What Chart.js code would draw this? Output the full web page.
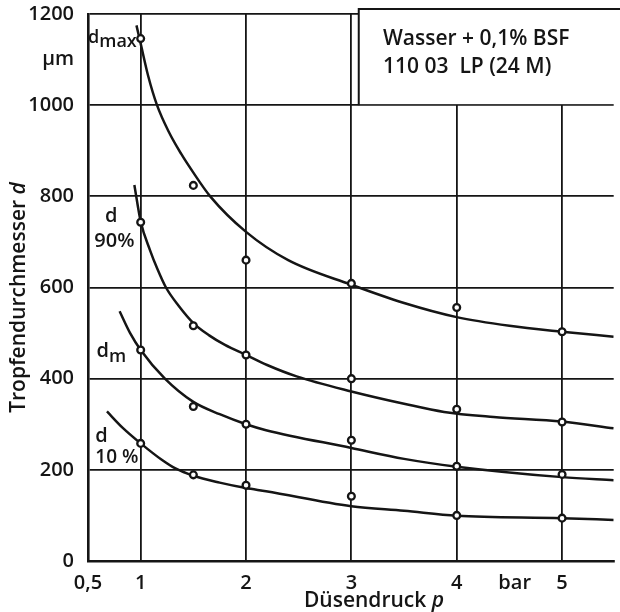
<!DOCTYPE html>
<html>
<head>
<meta charset="utf-8">
<script src="https://cdn.jsdelivr.net/npm/chart.js@4.4.1/dist/chart.umd.min.js"></script>
<style>
html, body { margin: 0; padding: 0; background: #fff; }
#wrap { width: 620px; height: 612px; }
</style>
</head>
<body>
<div id="wrap"><canvas id="chart"></canvas></div>
<script>
// measured droplet sizes (um) at nozzle pressure p (bar)
var pressures = [1, 1.5, 2, 3, 4, 5];
var dMaxPts  = [1146, 824, 660, 609, 556, 503];
var d90Pts   = [743, 516, 452, 400, 333, 305];
var dMeanPts = [463, 339, 300, 265, 208, 190];
var d10Pts   = [258, 189, 166, 142, 100, 94];

// hand drawn fit curves
var dMaxCurveP = [0.96, 1.0, 1.07, 1.155, 1.27, 1.385, 1.5, 1.66, 2.0, 2.4, 3, 3.5, 4, 4.5, 5, 5.49];
var dMaxCurve  = [1175, 1135, 1065, 1000, 940, 893, 852, 800, 722, 660, 606, 566, 535, 516, 503, 492];
var d90CurveP  = [0.94, 1.0, 1.09, 1.16, 1.24, 1.36, 1.5, 1.65, 1.8, 2.0, 2.2, 2.48, 3, 3.5, 3.88, 4.35, 5, 5.49];
var d90Curve   = [825, 745, 681, 640, 600, 560, 522, 495, 474, 452, 430, 405, 372, 345, 327, 316, 306, 291];
var dMeanCurveP = [0.8, 0.9, 1.0, 1.23, 1.5, 1.75, 2.0, 2.19, 3, 3.5, 4, 5, 5.49];
var dMeanCurve  = [548, 500, 463, 400, 349, 322, 300, 287, 248, 224, 207, 184, 177];
var d10CurveP  = [0.68, 0.83, 1.0, 1.2, 1.33, 1.5, 1.75, 2.0, 2.19, 3, 3.5, 4, 5, 5.49];
var d10Curve   = [328, 292, 258, 222, 203, 187, 172, 160, 153, 120, 110, 99, 94, 90];

// axis ticks
var xTickValues = [0.5, 1, 2, 3, 4, 4.55, 5];
var xTickLabels = ['0,5', '1', '2', '3', '4', 'bar', '5'];
var yTickValues = [0, 200, 400, 600, 800, 1000, 1100, 1200];
var yTickLabels = ['0', '200', '400', '600', '800', '1000', '\u03bcm', '1200'];

var ink = '#151515';
var fontName = "'Open Sans', sans-serif";
var fontWeight = '600';

function xy(xs, ys) {
    return xs.map(function(v, i) { return { x: v, y: ys[i] }; });
}

function curve(xs, ys) {
    return {
        data: xy(xs, ys),
        showLine: true,
        borderColor: ink,
        borderWidth: 2.5,
        pointRadius: 0,
        cubicInterpolationMode: 'monotone',
        order: 2
    };
}

function marks(ys) {
    return {
        data: xy(pressures, ys),
        showLine: false,
        pointRadius: 3.4,
        pointBorderWidth: 2.3,
        pointBorderColor: ink,
        pointBackgroundColor: '#fff',
        order: 1
    };
}

// draws a run of text pieces one after another
function textRun(ctx, parts, x, y) {
    parts.forEach(function(p) {
        ctx.font = p.font;
        ctx.fillText(p.text, x, y + (p.dy || 0));
        x += ctx.measureText(p.text).width;
    });
}

function runWidth(ctx, parts) {
    var w = 0;
    parts.forEach(function(p) { ctx.font = p.font; w += ctx.measureText(p.text).width; });
    return w;
}

var paperText = {
    id: 'paperText',
    beforeDatasetsDraw: function(chart) {
        // legend box in the upper right corner hides the grid
        var sx = chart.scales.x, sy = chart.scales.y, ctx = chart.ctx;
        var left = sx.getPixelForValue(3.07);
        var top = sy.getPixelForValue(1200) - 5;
        var bottom = sy.getPixelForValue(1000);
        ctx.save();
        ctx.fillStyle = '#fff';
        ctx.fillRect(left, top - 2, chart.width - left, bottom - top + 1);
        ctx.strokeStyle = ink;
        ctx.lineWidth = 2;
        ctx.beginPath();
        ctx.moveTo(left, bottom);
        ctx.lineTo(left, top);
        ctx.lineTo(chart.width, top);
        ctx.stroke();
        ctx.restore();
    },
    afterDraw: function(chart) {
        var sx = chart.scales.x, sy = chart.scales.y, ctx = chart.ctx;
        var X = function(v) { return sx.getPixelForValue(v); };
        var Y = function(v) { return sy.getPixelForValue(v); };
        var f = function(s, it) { return (it ? 'italic ' : '') + fontWeight + ' ' + s + 'px ' + fontName; };
        ctx.save();
        ctx.fillStyle = ink;
        ctx.textBaseline = 'alphabetic';
        ctx.textAlign = 'left';

        // box text
        ctx.font = f(21);
        ctx.fillText('Wasser + 0,1% BSF', X(3.3), Y(1132));
        ctx.fillText('110 03  LP (24 M)', X(3.3), Y(1071));

        // curve labels
        textRun(ctx, [{ text: 'd', font: f(18) }, { text: 'max', font: f(18), dy: 3.5 }], X(0.5), Y(1136));
        ctx.textAlign = 'center';
        ctx.font = f(20);
        ctx.fillText('d', X(0.72), Y(744));
        ctx.font = f(20);
        ctx.fillText('90%', X(0.75), Y(689));
        ctx.textAlign = 'left';
        textRun(ctx, [{ text: 'd', font: f(20) }, { text: 'm', font: f(18), dy: 4.5 }], X(0.58), Y(447));
        ctx.font = f(20);
        ctx.fillText('d', X(0.57), Y(262));
        ctx.font = f(19);
        ctx.fillText('10 %', X(0.57), Y(215));

        // axis titles
        var xt = [{ text: 'D\u00fcsendruck ', font: f(21) }, { text: 'p', font: f(21, true) }];
        textRun(ctx, xt, X(2.55), chart.height - 5.5);

        var yt = [{ text: 'Tropfendurchmesser ', font: f(21) }, { text: 'd', font: f(21, true) }];
        ctx.translate(25, (chart.chartArea.top + chart.chartArea.bottom) / 2 + 10);
        ctx.rotate(-Math.PI / 2);
        textRun(ctx, yt, -runWidth(ctx, yt) / 2, 0);
        ctx.restore();
    }
};

new Chart(document.getElementById('chart'), {
    type: 'scatter',
    data: {
        datasets: [
            curve(dMaxCurveP, dMaxCurve),
            curve(d90CurveP, d90Curve),
            curve(dMeanCurveP, dMeanCurve),
            curve(d10CurveP, d10Curve),
            marks(dMaxPts),
            marks(d90Pts),
            marks(dMeanPts),
            marks(d10Pts)
        ]
    },
    options: {
        responsive: true,
        maintainAspectRatio: false,
        animation: false,
        devicePixelRatio: 1,
        layout: { padding: { top: 14, left: 0, right: 0, bottom: 0 } },
        plugins: { legend: { display: false }, tooltip: { enabled: false } },
        scales: {
            x: {
                type: 'linear',
                min: 0.5,
                max: 5.49,
                afterBuildTicks: function(s) { s.ticks = xTickValues.map(function(v) { return { value: v }; }); },
                afterFit: function(s) { s.height = 51; },
                ticks: {
                    autoSkip: false,
                    maxRotation: 0,
                    padding: 10,
                    color: ink,
                    font: { family: fontName, size: 20, weight: fontWeight },
                    callback: function(v) { return xTickLabels[xTickValues.indexOf(v)]; }
                },
                grid: {
                    drawTicks: false,
                    lineWidth: 1.8,
                    color: function(c) {
                        var v = c.tick ? c.tick.value : null;
                        return (v === 0.5 || v === 4.55) ? 'rgba(0,0,0,0)' : ink;
                    }
                },
                border: { color: ink, width: 2.6 }
            },
            y: {
                type: 'linear',
                min: 0,
                max: 1200,
                afterBuildTicks: function(s) { s.ticks = yTickValues.map(function(v) { return { value: v }; }); },
                afterFit: function(s) { s.width = 88; s.paddingTop = 0; s.paddingBottom = 0; },
                ticks: {
                    autoSkip: false,
                    padding: 14,
                    color: ink,
                    font: { family: fontName, size: 20, weight: fontWeight },
                    callback: function(v) { return yTickLabels[yTickValues.indexOf(v)]; }
                },
                grid: {
                    drawTicks: false,
                    lineWidth: 1.8,
                    color: function(c) {
                        var v = c.tick ? c.tick.value : null;
                        return (v === 0 || v === 1100) ? 'rgba(0,0,0,0)' : ink;
                    }
                },
                border: { color: ink, width: 2.6 }
            }
        }
    },
    plugins: [paperText]
});
</script>
</body>
</html>
